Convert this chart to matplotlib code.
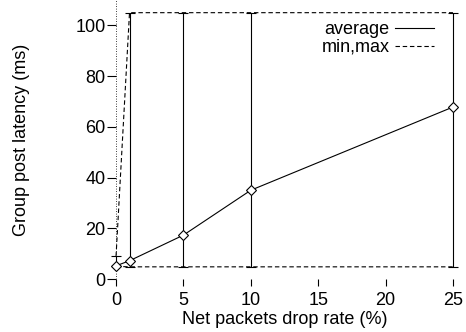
import matplotlib
matplotlib.use("Agg")
import matplotlib.pyplot as plt

plt.rcParams["font.family"] = ["Liberation Sans", "DejaVu Sans"]
plt.rcParams["font.size"] = 13

# data
drop_rate = [0, 1, 5, 10, 25]
avg_latency = [5.2, 7.2, 17.3, 35.0, 67.8]
min_latency = [5.0, 4.8, 4.8, 4.8, 4.8]
max_latency = [9.0, 105, 105, 105, 105]

fig = plt.figure(figsize=(4.66, 3.32), dpi=100)
ax = fig.add_axes([0.249, 0.1596, 0.723, 0.8404])

# error bars (min..max) with caps
yerr = [[a - lo for a, lo in zip(avg_latency, min_latency)],
        [hi - a for a, hi in zip(avg_latency, max_latency)]]
ax.errorbar(drop_rate, avg_latency, yerr=yerr, fmt="none", ecolor="black",
            elinewidth=0.8, capsize=3.5, capthick=0.8, clip_on=False)

# average line with open diamonds
ax.plot(drop_rate, avg_latency, color="black", lw=0.8, marker="D", ms=5.5,
        mfc="white", mec="black", mew=0.8, label="average", clip_on=False, zorder=3)

# min / max dashed lines
ax.plot(drop_rate, max_latency, color="black", lw=0.8, dashes=(4, 2.5),
        label="min,max", clip_on=False)
ax.plot(drop_rate, min_latency, color="black", lw=0.8, dashes=(4, 2.5), clip_on=False)

# zero axes
ax.axhline(0, color="black", lw=0.6, ls=(0, (1, 2)), zorder=0)
ax.axvline(0, color="black", lw=0.6, ls=(0, (1, 2)), zorder=0)

ax.set_xlim(0, 25)
ax.set_ylim(0, 110)
ax.set_xticks([0, 5, 10, 15, 20, 25])
ax.set_yticks([0, 20, 40, 60, 80, 100])
for s in ax.spines.values():
    s.set_visible(False)
ax.tick_params(axis="y", direction="out", length=6.5, width=0.8, pad=1)
ax.tick_params(axis="x", direction="out", length=5, width=0.8, pad=4)

ax.set_xlabel("Net packets drop rate (%)", labelpad=2)
ax.set_ylabel("Group post latency (ms)", labelpad=33)

# legend: text first, sample on the right
h, l = ax.get_legend_handles_labels()
h[0] = plt.Line2D([], [], color="black", lw=0.8)
ax.legend(h, l, loc="upper right", bbox_to_anchor=(0.943, 0.925), frameon=False,
          markerfirst=False, handlelength=2.15, handletextpad=0.3,
          borderpad=0, borderaxespad=0, labelspacing=0.05)

fig.savefig("out.png", dpi=100)
